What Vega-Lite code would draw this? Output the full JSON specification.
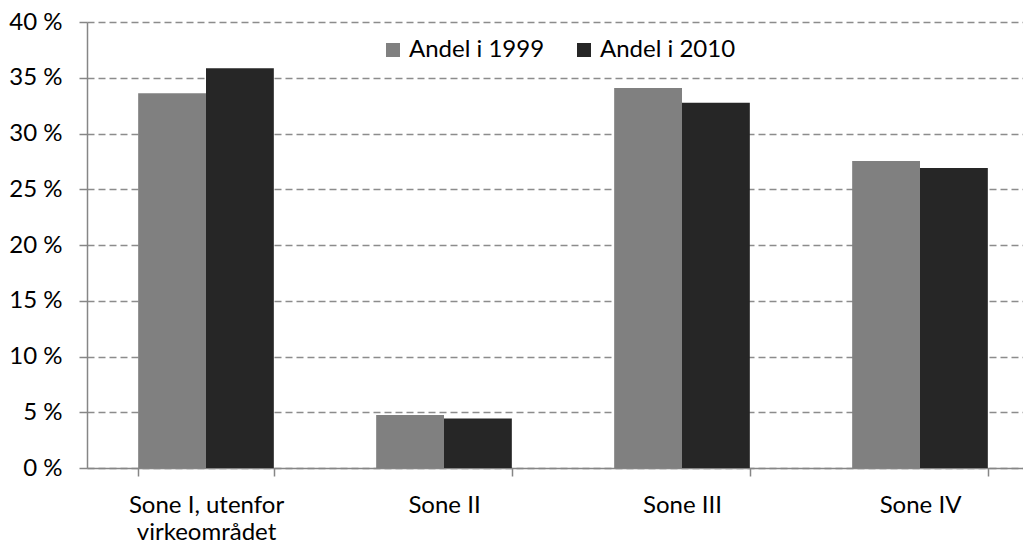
{
  "$schema": "https://vega.github.io/schema/vega-lite/v6.json",
  "autosize": "none",
  "padding": {"left": 87, "top": 22, "right": 0, "bottom": 76},
  "width": 936,
  "height": 446,
  "background": "white",
  "config": {
    "view": {"stroke": null},
    "font": "Lato"
  },
  "data": {
    "values": [
      {"sone": "Sone I, utenfor virkeområdet", "serie": "Andel i 1999", "andel": 33.6},
      {"sone": "Sone I, utenfor virkeområdet", "serie": "Andel i 2010", "andel": 35.85},
      {"sone": "Sone II", "serie": "Andel i 1999", "andel": 4.76},
      {"sone": "Sone II", "serie": "Andel i 2010", "andel": 4.45},
      {"sone": "Sone III", "serie": "Andel i 1999", "andel": 34.08},
      {"sone": "Sone III", "serie": "Andel i 2010", "andel": 32.76},
      {"sone": "Sone IV", "serie": "Andel i 1999", "andel": 27.53},
      {"sone": "Sone IV", "serie": "Andel i 2010", "andel": 26.9}
    ]
  },
  "mark": {"type": "bar"},
  "encoding": {
    "x": {
      "field": "sone",
      "type": "nominal",
      "sort": null,
      "scale": {"range": [0, 952], "paddingInner": 0.43, "paddingOuter": 0.215},
      "axis": {
        "title": null,
        "labelAngle": 0,
        "labelFont": "Lato",
        "labelFontSize": 24,
        "labelColor": "#000000",
        "labelPadding": 17,
        "labelLineHeight": 27,
        "labelBaseline": "top",
        "labelExpr": "datum.value == 'Sone I, utenfor virkeområdet' ? ['Sone I, utenfor', 'virkeområdet'] : datum.label",
        "tickBand": "extent",
        "tickSize": 8,
        "tickColor": "#868686",
        "tickWidth": 1.5,
        "domainColor": "#868686",
        "domainWidth": 1.5,
        "grid": false
      }
    },
    "xOffset": {"field": "serie", "type": "nominal", "scale": {"paddingInner": 0, "paddingOuter": 0}},
    "y": {
      "field": "andel",
      "type": "quantitative",
      "scale": {"domain": [0, 40], "nice": false},
      "axis": {
        "title": null,
        "values": [0, 5, 10, 15, 20, 25, 30, 35, 40],
        "labelExpr": "datum.value + ' %'",
        "labelFont": "Lato",
        "labelFontSize": 24,
        "labelColor": "#000000",
        "labelPadding": 17,
        "tickSize": 8,
        "tickColor": "#868686",
        "tickWidth": 1.5,
        "domainColor": "#868686",
        "domainWidth": 1.5,
        "grid": true,
        "gridColor": "#8c8c8c",
        "gridWidth": 1.5,
        "gridDash": [7, 4]
      }
    },
    "color": {
      "field": "serie",
      "type": "nominal",
      "scale": {"domain": ["Andel i 1999", "Andel i 2010"], "range": ["#808080", "#262626"]},
      "legend": {
        "title": null,
        "orient": "none",
        "legendX": 294,
        "legendY": 16,
        "direction": "horizontal",
        "symbolType": "square",
        "symbolSize": 196,
        "symbolStrokeWidth": 0,
        "labelFont": "Lato",
        "labelFontSize": 24,
        "labelColor": "#000000",
        "labelOffset": 4,
        "columnPadding": 27
      }
    }
  }
}
